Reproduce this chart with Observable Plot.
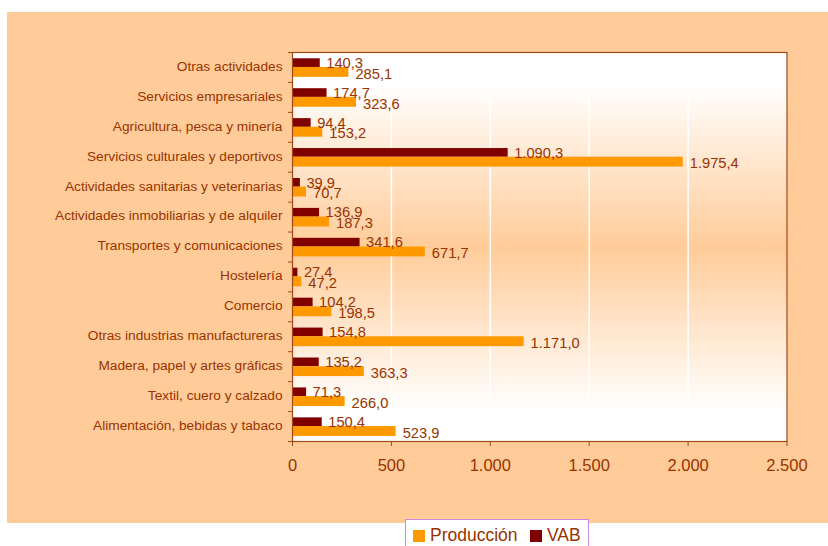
<!DOCTYPE html>
<html>
<head>
<meta charset="utf-8">
<script src="https://cdn.jsdelivr.net/npm/d3@7"></script>
<script src="https://cdn.jsdelivr.net/npm/@observablehq/plot@0.6"></script>
<style>
  html, body { margin: 0; padding: 0; background: #ffffff; }
  #wrap { position: relative; width: 828px; height: 546px; overflow: hidden; font-family: "Liberation Sans", Arial, sans-serif; }
  #panel { position: absolute; left: 7px; top: 12px; width: 821px; height: 511px; background: #FFCC99; }
  #chart { position: absolute; left: 0; top: 0; }
  #legend { position: absolute; left: 405px; top: 519px; width: 184px; height: 40px; background: #ffffff;
            border: 1px solid #C98BDF; box-sizing: border-box; color: #993300; font-size: 17.5px; }
  .item { position: absolute; top: 6px; height: 20px; line-height: 20px; display: flex; align-items: center; white-space: nowrap; }
  .sw { width: 12.5px; height: 12.5px; display: inline-block; margin-right: 5px; flex: none; }
  .lbl { position: relative; top: -1.5px; }
</style>
</head>
<body>
<div id="wrap">
  <div id="panel"></div>
  <div id="chart"></div>
  <div id="legend"></div>
</div>
<script>
const categories = [
  "Otras actividades",
  "Servicios empresariales",
  "Agricultura, pesca y minería",
  "Servicios culturales y deportivos",
  "Actividades sanitarias y veterinarias",
  "Actividades inmobiliarias y de alquiler",
  "Transportes y comunicaciones",
  "Hostelería",
  "Comercio",
  "Otras industrias manufactureras",
  "Madera, papel y artes gráficas",
  "Textil, cuero y calzado",
  "Alimentación, bebidas y tabaco"
];
const produccion = [285.1, 323.6, 153.2, 1975.4, 70.7, 187.3, 671.7, 47.2, 198.5, 1171.0, 363.3, 266.0, 523.9];
const vab = [140.3, 174.7, 94.4, 1090.3, 39.9, 136.9, 341.6, 27.4, 104.2, 154.8, 135.2, 71.3, 150.4];
const seriesNames = ["Producción", "VAB"];
const seriesColors = ["#FF9900", "#800000"];
const xTicks = [0, 500, 1000, 1500, 2000, 2500];

const brown = "#993300";
const axisBrown = "#A0481A";
const locale = d3.formatLocale({decimal: ",", thousands: ".", grouping: [3], currency: ["", "€"]});
const fmtVal = locale.format(",.1f");
const fmtTick = locale.format(",d");

const rows = categories.map((c, i) => ({c, i, prod: produccion[i], vab: vab[i]}));

const svg = Plot.plot({
  width: 828,
  height: 500,
  marginLeft: 292,
  marginRight: 41.5,
  marginTop: 52,
  marginBottom: 59,
  style: {background: "transparent", color: brown, fontFamily: "'Liberation Sans', Arial, sans-serif", overflow: "visible"},
  x: {domain: [0, 2500]},
  y: {domain: [0, categories.length], reverse: true},
  marks: [
    Plot.frame({fill: "url(#bgGrad)", stroke: "none"}),
    Plot.ruleX(xTicks.slice(1, -1), {stroke: "#ffffff", strokeWidth: 1.5}),
    Plot.rectX(rows, {x1: 0, x2: "vab", y1: d => d.i + 0.21, y2: d => d.i + 0.5, fill: seriesColors[1]}),
    Plot.rectX(rows, {x1: 0, x2: "prod", y1: d => d.i + 0.5, y2: d => d.i + 0.83, fill: seriesColors[0]}),
    Plot.frame({stroke: axisBrown, strokeWidth: 1.2}),
    Plot.axisX({ticks: xTicks, tickSize: 5, tickPadding: 13, tickFormat: fmtTick, fontSize: 16.5, label: null, stroke: axisBrown, fill: brown}),
    Plot.axisY({ticks: d3.range(0, categories.length + 1), tickSize: 4, tickFormat: () => "", label: null, stroke: axisBrown}),
    Plot.axisY({ticks: categories.map((c, i) => i + 0.5), tickSize: 0, tickPadding: 10, dy: -1,
      tickFormat: d => categories[Math.floor(d)], fontSize: 13.7, label: null, fill: brown}),
    Plot.text(rows, {x: "vab", y: d => d.i + 0.355, text: d => fmtVal(d.vab), dx: 6, dy: 0, textAnchor: "start", fontSize: 14.7, fill: brown}),
    Plot.text(rows, {x: "prod", y: d => d.i + 0.665, text: d => fmtVal(d.prod), dx: 6.5, dy: 1.5, textAnchor: "start", fontSize: 14.7, fill: brown})
  ]
});

const defs = d3.select(svg).insert("defs", ":first-child");
const grad = defs.append("linearGradient").attr("id", "bgGrad").attr("x1", 0).attr("y1", 0).attr("x2", 0).attr("y2", 1);
grad.append("stop").attr("offset", "0%").attr("stop-color", "#ffffff");
grad.append("stop").attr("offset", "8%").attr("stop-color", "#ffffff");
grad.append("stop").attr("offset", "50%").attr("stop-color", "#FFCC99");
grad.append("stop").attr("offset", "92%").attr("stop-color", "#ffffff");
grad.append("stop").attr("offset", "100%").attr("stop-color", "#ffffff");

document.getElementById("chart").appendChild(svg);

const legend = document.getElementById("legend");
const positions = [6.5, 123.5];
[0, 1].forEach(k => {
  const item = document.createElement("div");
  item.className = "item";
  item.style.left = positions[k] + "px";
  const sw = document.createElement("span");
  sw.className = "sw";
  sw.style.background = seriesColors[k];
  const t = document.createElement("span");
  t.className = "lbl";
  t.textContent = seriesNames[k];
  item.appendChild(sw);
  item.appendChild(t);
  legend.appendChild(item);
});
</script>
</body>
</html>
